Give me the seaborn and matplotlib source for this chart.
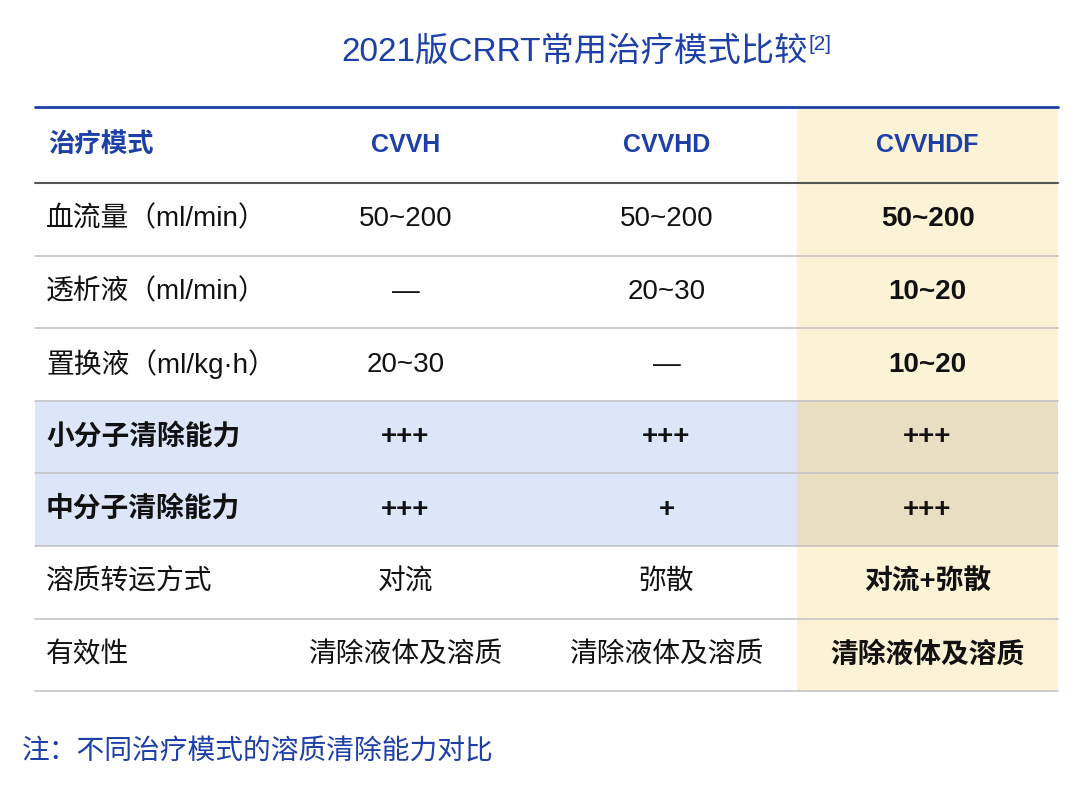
import matplotlib
matplotlib.use("Agg")
import matplotlib.pyplot as plt
import seaborn as sns

sns.set_theme(style="white")
plt.rcParams['font.family'] = ['Liberation Sans', 'Noto Sans CJK SC', 'DejaVu Sans']

title = "2021版CRRT常用治疗模式比较"
headers = ["治疗模式", "CVVH", "CVVHD", "CVVHDF"]
row_labels = ["血流量（ml/min）", "透析液（ml/min）", "置换液（ml/kg·h）", "小分子清除能力",
              "中分子清除能力", "溶质转运方式", "有效性"]
cvvh = ["50~200", "—", "20~30", "+++", "+++", "对流", "清除液体及溶质"]
cvvhd = ["50~200", "20~30", "—", "+++", "+", "弥散", "清除液体及溶质"]
cvvhdf = ["50~200", "10~20", "10~20", "+++", "+++", "对流+弥散", "清除液体及溶质"]
blue_rows = [3, 4]
note = "注：不同治疗模式的溶质清除能力对比"

W, H = 1080, 788
fig = plt.figure(figsize=(W/100, H/100), dpi=100)
ax = fig.add_axes([0, 0, 1, 1])
ax.set_xlim(0, W); ax.set_ylim(H, 0); ax.axis("off")

BLUE = "#1C3FA8"
x0, x1 = 35, 1058
col_edges = [35, 275, 536, 797, 1058]
centers = [(col_edges[i] + col_edges[i+1]) / 2 for i in range(4)]
top, head_h, row_h = 107, 76, 72.6
row_tops = [top + head_h + i * row_h for i in range(len(row_labels) + 1)]

ax.add_patch(plt.Rectangle((797, top), 261, row_tops[-1] - top, color="#FCF2D5", zorder=0, lw=0))
for r in blue_rows:
    ax.add_patch(plt.Rectangle((x0, row_tops[r]), 797 - x0, row_h, color="#DCE6F8", zorder=0, lw=0))
    ax.add_patch(plt.Rectangle((797, row_tops[r]), 261, row_h, color="#E8DEC2", zorder=0, lw=0))

ax.plot([x0, x1], [top, top], color=BLUE, lw=2, zorder=2)
ax.plot([x0, x1], [row_tops[0], row_tops[0]], color="#555555", lw=1.5, zorder=2)
for y in row_tops[1:]:
    ax.plot([x0, x1], [y, y], color="#C4C4C4", lw=1.2, zorder=2)

ax.text(808, 52, title, ha="right", va="center", fontsize=24, color=BLUE)
ax.text(809, 44, "[2]", ha="left", va="center", fontsize=15, color=BLUE)

hy = top + head_h / 2
ax.text(48, hy, headers[0], ha="left", va="center", fontsize=19, color=BLUE, weight="bold")
for i in range(1, 4):
    ax.text(centers[i], hy, headers[i], ha="center", va="center", fontsize=18, color=BLUE, weight="bold")

for r, lab in enumerate(row_labels):
    cy = row_tops[r] + row_h / 2
    bold = r in blue_rows
    ax.text(46, cy, lab, ha="left", va="center", fontsize=20, color="#111111",
            weight="bold" if bold else "normal")
    for c, vals in zip(centers[1:], [cvvh, cvvhd, cvvhdf]):
        b = bold or vals is cvvhdf
        ax.text(c, cy, vals[r], ha="center", va="center", fontsize=20, color="#111111",
                weight="bold" if b else "normal")

ax.text(22, 752, note, ha="left", va="center", fontsize=20, color=BLUE)

fig.savefig("out.png", dpi=100)
